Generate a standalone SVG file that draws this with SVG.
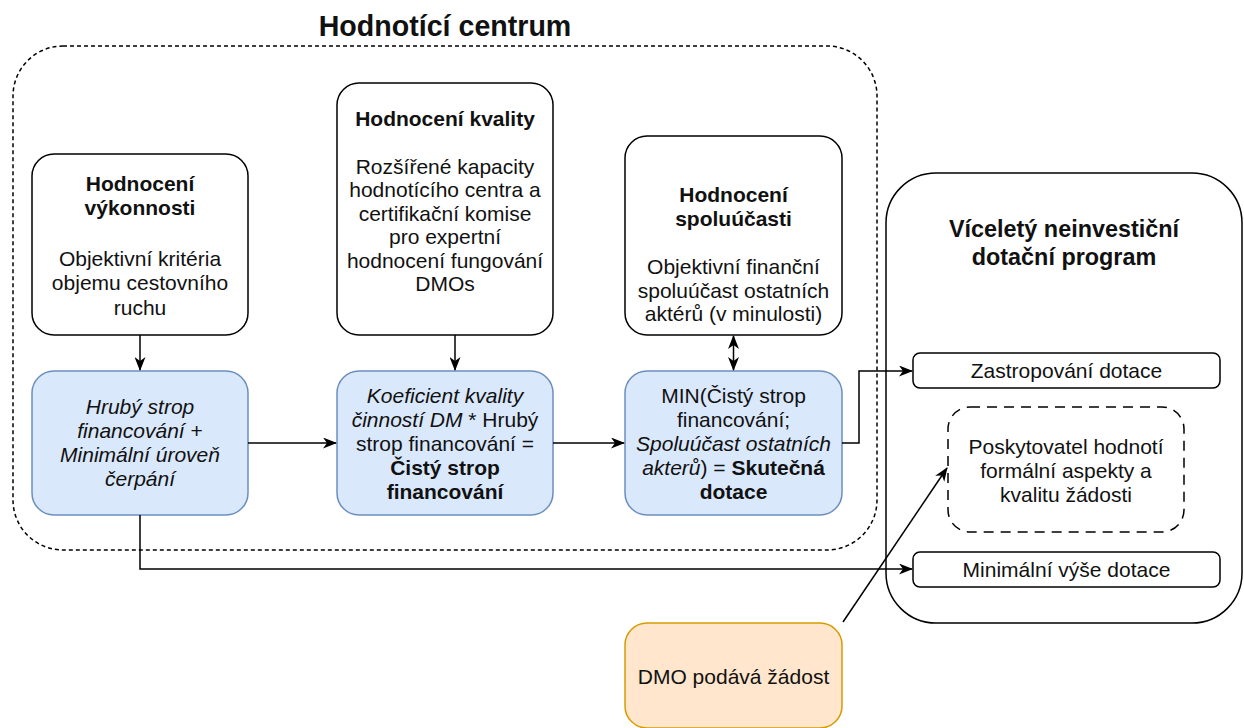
<svg xmlns="http://www.w3.org/2000/svg" width="1244" height="728" viewBox="0 0 1244 728">
<defs>
<marker id="arr" viewBox="0 0 14 11" refX="13" refY="5.5" markerWidth="14" markerHeight="11" markerUnits="userSpaceOnUse" orient="auto-start-reverse">
<path d="M0,0 L14,5.5 L0,11 L4,5.5 Z" fill="#000"/>
</marker>
</defs>
<style>
text{font-family:"Liberation Sans",Arial,sans-serif;fill:#111;text-anchor:middle}
.t{font-size:21px}
.b{font-weight:bold}
.i{font-style:italic}
.box{fill:#fff;stroke:#000;stroke-width:1.5}
.blue{fill:#dae8fc;stroke:#6c8ebf;stroke-width:1.5}
.orange{fill:#ffe6cc;stroke:#d79b00;stroke-width:1.5}
.conn{fill:none;stroke:#000;stroke-width:1.5}
</style>

<g id="hodnotici-centrum">
<rect x="13" y="46" width="864" height="504" rx="50" fill="none" stroke="#000" stroke-width="1.5" stroke-dasharray="4 3"/>
<text x="445" y="36" class="b" style="font-size:28.6px">Hodnotící centrum</text>
</g>

<g id="program">
<rect x="886" y="173" width="356" height="450" rx="50" class="box"/>
<text x="1064" y="236.5" class="b" style="font-size:23.4px">Víceletý neinvestiční</text>
<text x="1064" y="264.5" class="b" style="font-size:23.4px">dotační program</text>
</g>

<g id="hodnoceni-vykonnosti">
<rect x="32" y="154" width="216" height="181" rx="22" class="box"/>
<text class="t b" x="140" y="190.5">Hodnocení</text>
<text class="t b" x="140" y="214.5">výkonnosti</text>
<text class="t" x="140" y="265.5">Objektivní kritéria</text>
<text class="t" x="140" y="290">objemu cestovního</text>
<text class="t" x="140" y="314.5">ruchu</text>
</g>

<g id="hodnoceni-kvality">
<rect x="337" y="83" width="216" height="252" rx="22" class="box"/>
<text class="t b" x="445" y="125.5">Hodnocení kvality</text>
<text class="t" x="445" y="173.5">Rozšířené kapacity</text>
<text class="t" x="445" y="197">hodnotícího centra a</text>
<text class="t" x="445" y="220.5">certifikační komise</text>
<text class="t" x="445" y="244">pro expertní</text>
<text class="t" x="445" y="267.5">hodnocení fungování</text>
<text class="t" x="445" y="291">DMOs</text>
</g>

<g id="hodnoceni-spoluucasti">
<rect x="625" y="136" width="217" height="199" rx="22" class="box"/>
<text class="t b" x="733.5" y="201.5">Hodnocení</text>
<text class="t b" x="733.5" y="225.5">spoluúčasti</text>
<text class="t" x="733.5" y="273.5">Objektivní finanční</text>
<text class="t" x="733.5" y="297.5">spoluúčast ostatních</text>
<text class="t" x="733.5" y="321">aktérů (v minulosti)</text>
</g>

<g id="hruby-strop">
<rect x="32" y="371" width="216" height="144" rx="22" class="blue"/>
<text class="t i" x="140" y="413.5">Hrubý strop</text>
<text class="t" x="140" y="437.5"><tspan class="i">financování</tspan> +</text>
<text class="t i" x="140" y="461.5">Minimální úroveň</text>
<text class="t i" x="140" y="485.5">čerpání</text>
</g>

<g id="cisty-strop">
<rect x="337" y="371" width="216" height="144" rx="22" class="blue"/>
<text class="t i" x="445" y="402.5">Koeficient kvality</text>
<text class="t" x="445" y="426.5"><tspan class="i">činností DM</tspan> * Hrubý</text>
<text class="t" x="445" y="450.5">strop financování =</text>
<text class="t b" x="445" y="474.5">Čistý strop</text>
<text class="t b" x="445" y="498.5">financování</text>
</g>

<g id="skutecna-dotace">
<rect x="625" y="371" width="217" height="144" rx="22" class="blue"/>
<text class="t" x="733.5" y="402.5">MIN(Čistý strop</text>
<text class="t" x="733.5" y="426.5">financování;</text>
<text class="t i" x="733.5" y="450.5">Spoluúčast ostatních</text>
<text class="t" x="733.5" y="474.5"><tspan class="i">akterů</tspan>) = <tspan class="b">Skutečná</tspan></text>
<text class="t b" x="733.5" y="498.5">dotace</text>
</g>

<g id="zastropovani">
<rect x="913" y="353" width="307" height="35" rx="7" class="box"/>
<text class="t" x="1066.5" y="378">Zastropování dotace</text>
</g>

<g id="poskytovatel">
<rect x="948" y="407" width="236" height="125" rx="22" fill="#fff" stroke="#000" stroke-width="1.5" stroke-dasharray="10 7"/>
<text class="t" x="1066" y="453.5">Poskytovatel hodnotí</text>
<text class="t" x="1066" y="477.5">formální aspekty a</text>
<text class="t" x="1066" y="501.5">kvalitu žádosti</text>
</g>

<g id="minimalni-vyse">
<rect x="913" y="552" width="307" height="35" rx="7" class="box"/>
<text class="t" x="1066.5" y="577">Minimální výše dotace</text>
</g>

<g id="dmo">
<rect x="625" y="623" width="217" height="105" rx="22" class="orange"/>
<text class="t" x="733.5" y="684">DMO podává žádost</text>
</g>

<g id="connectors">
<path class="conn" d="M140 335 V370" marker-end="url(#arr)"/>
<path class="conn" d="M455 335 V370" marker-end="url(#arr)"/>
<path class="conn" d="M733.5 336 V370" marker-start="url(#arr)" marker-end="url(#arr)"/>
<path class="conn" d="M248 443 H336" marker-end="url(#arr)"/>
<path class="conn" d="M553 443 H624" marker-end="url(#arr)"/>
<path class="conn" d="M842 443 H859 V371 H912" marker-end="url(#arr)"/>
<path class="conn" d="M140 515 V569 H912" marker-end="url(#arr)"/>
<path class="conn" d="M843 622 L947 468" marker-end="url(#arr)"/>
</g>
</svg>
